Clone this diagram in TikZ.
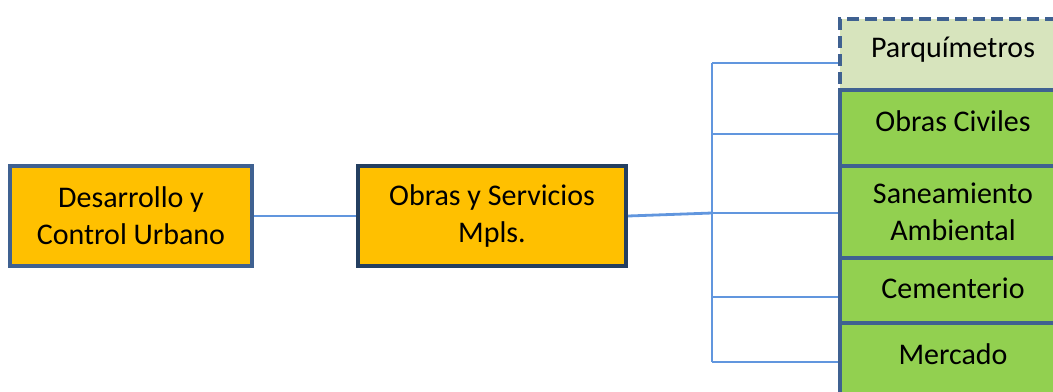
\documentclass[tikz,border=0pt]{standalone}
\usepackage{fontspec}
\setmainfont{Carlito}
\usepackage{tikz}

\definecolor{naranja}{HTML}{FFC000}
\definecolor{verde}{HTML}{92D050}
\definecolor{verdeclaro}{HTML}{D7E4BD}
\definecolor{borde}{HTML}{3F6191}
\definecolor{bordeosc}{HTML}{243F60}
\definecolor{linea}{HTML}{6196DE}

\tikzset{
  caja/.style={draw=borde, line width=2pt, fill=naranja, align=center,
    font=\fontsize{15}{18.5}\selectfont, inner sep=0pt},
  area/.style={caja, fill=verde, minimum width=113pt},
  enlace/.style={draw=linea, line width=1.4pt}
}

\begin{document}
\begin{tikzpicture}[x=0.5pt,y=-0.5pt]
        \useasboundingbox (0,0) rectangle (1053,391);
        \clip (0,0) rectangle (1053,391);
        % ramas
        \node[caja, minimum width=121pt, minimum height=50pt] (desarrollo) at (131,216) {Desarrollo y\\Control Urbano};
        \node[caja, draw=bordeosc, minimum width=134pt, minimum height=50pt] (obras) at (492,216) {Obras y Servicios\\Mpls.};
        \node[area, fill=verdeclaro, dashed, dash pattern=on 6pt off 3pt, minimum height=35.5pt, text depth=7pt] (parq) at (953,54.5) {Parquímetros};
        \node[area, minimum height=38pt, text depth=7pt] (civiles) at (953,128) {Obras Civiles};
        \node[area, minimum height=46pt] (saneamiento) at (953,212) {Saneamiento\\Ambiental};
        \node[area, minimum height=32.5pt, text depth=2pt] (cementerio) at (953,290.5) {Cementerio};
        \node[area, minimum height=38.5pt, text depth=7pt] (mercado) at (953,361.5) {Mercado};
        % conectores
        \coordinate (b1) at (712,63);
        \coordinate (b2) at (712,134);
        \coordinate (b3) at (712,213);
        \coordinate (b4) at (712,297);
        \coordinate (b5) at (712,362);
        \draw[enlace] (desarrollo.east) -- (obras.west);
        \draw[enlace] (obras.east) -- (b3);
        \draw[enlace] (b1) -- (b5);
        \draw[enlace] (b1) -- (b1 -| parq.west);
        \draw[enlace] (b2) -- (b2 -| civiles.west);
        \draw[enlace] (b3) -- (b3 -| saneamiento.west);
        \draw[enlace] (b4) -- (b4 -| cementerio.west);
        \draw[enlace] (b5) -- (b5 -| mercado.west);
    \end{tikzpicture}
\end{document}
